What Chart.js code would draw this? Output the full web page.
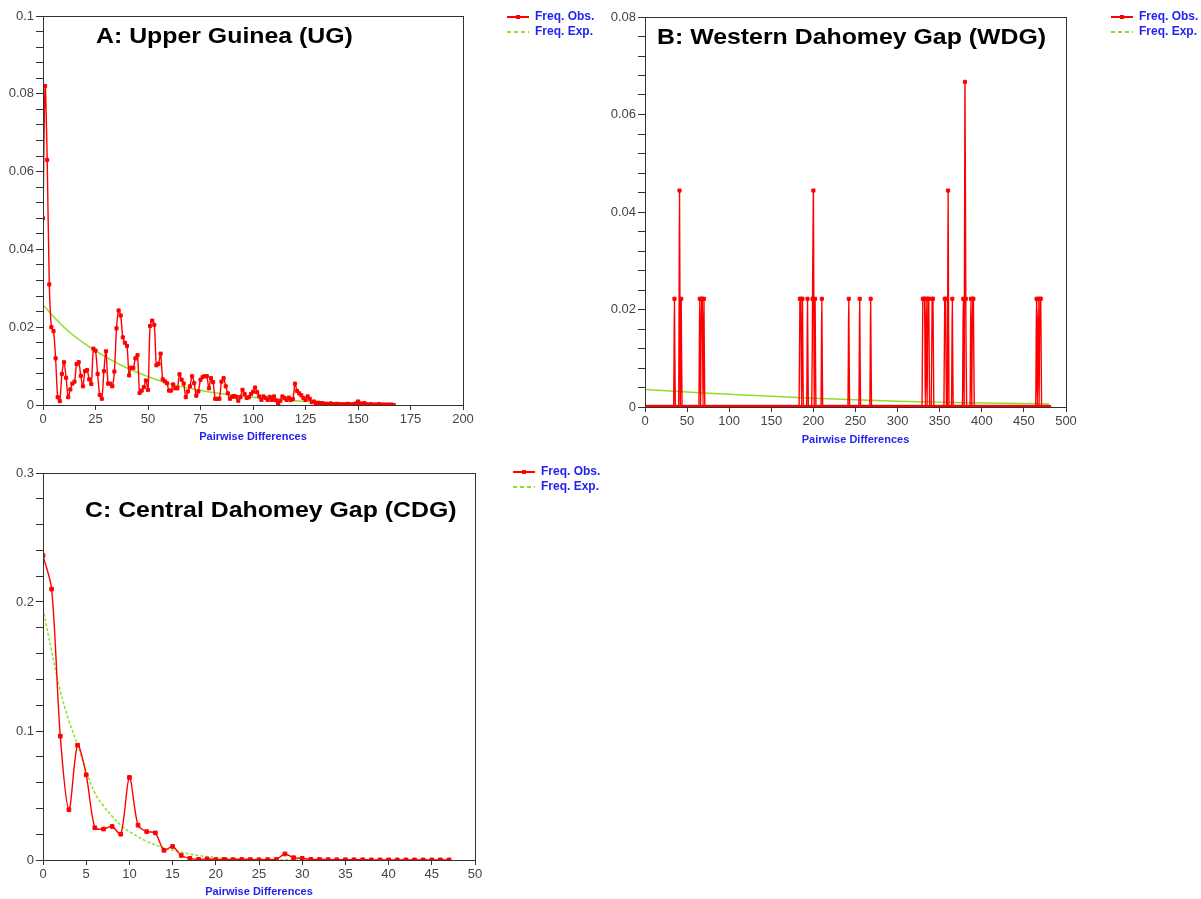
<!DOCTYPE html>
<html lang="en">
<head>
  <meta charset="UTF-8" />
  <title>Mismatch distributions</title>
  <style>
    body {
      margin: 0;
      background: #fff;
      width: 1201px;
      height: 899px;
      overflow: hidden;
      position: relative;
    }
    .panel { position: absolute; }
  </style>
</head>
<body>

  <div class="panel" style="left:0; top:0;"><canvas id="chartA" width="605" height="450"></canvas></div>
  <div class="panel" style="left:600px; top:0;"><canvas id="chartB" width="601" height="450"></canvas></div>
  <div class="panel" style="left:0; top:460px;"><canvas id="chartC" width="605" height="439"></canvas></div>

  <script src="https://cdn.jsdelivr.net/npm/chart.js"></script>
  <script>
    // ---- A: Upper Guinea, observed frequency for 0,1,2,... pairwise differences
    const aObs = [
      0.048, 0.082, 0.063, 0.031, 0.020, 0.019, 0.012, 0.002, 0.001, 0.008,
      0.011, 0.007, 0.002, 0.004, 0.0055, 0.006, 0.0105, 0.011, 0.0075, 0.0048,
      0.0087, 0.009, 0.0066, 0.0054, 0.0145, 0.014, 0.008, 0.0026, 0.0016, 0.0087,
      0.0138, 0.0055, 0.0055, 0.0048, 0.0086, 0.0197, 0.0243, 0.023, 0.0174, 0.016,
      0.0152, 0.0076, 0.0096, 0.0095, 0.012, 0.0128, 0.0031, 0.0037, 0.0046, 0.0063,
      0.0039, 0.0203, 0.0217, 0.0206, 0.0102, 0.0106, 0.0132, 0.0066, 0.0061, 0.0056,
      0.0037, 0.0037, 0.0053, 0.0043, 0.0043, 0.0079, 0.0065, 0.0055, 0.002, 0.0035,
      0.0048, 0.0074, 0.0056, 0.0024, 0.0035, 0.0065, 0.0072, 0.0074, 0.0074, 0.0043,
      0.0069, 0.0059, 0.0016, 0.0016, 0.0016, 0.006, 0.0069, 0.0048, 0.003, 0.0016,
      0.0021, 0.0023, 0.0021, 0.0011, 0.002, 0.0039, 0.0028, 0.0018, 0.002, 0.0028,
      0.0034, 0.0045, 0.0033, 0.0022, 0.0013, 0.0022, 0.0018, 0.0013, 0.0021, 0.0013,
      0.0022, 0.0012, 0.0004, 0.0011, 0.0022, 0.0018, 0.0013, 0.0019, 0.0013, 0.0015,
      0.0055, 0.0036, 0.003, 0.0025, 0.0018, 0.0013, 0.0022, 0.0016, 0.0007, 0.0009,
      0.0004, 0.0006, 0.0003, 0.0005, 0.0002, 0.0003, 0.0002, 0.0004, 0.0002, 0.0002,
      0.0003, 0.0002, 0.0001, 0.0002, 0.0001, 0.0003, 0.0002, 0.0001, 0.0002, 0.0004,
      0.0009, 0.0004, 0.0002, 0.0005, 0.0002, 0.0001, 0.0002, 0.0001, 0.0001, 0.0001,
      0.0002, 0.0001, 0.0001, 0.0001, 0.0001, 0.0001, 0.0001, 0
    ];
    const aExpX = [0, 10, 20, 30, 40, 50, 60, 70, 80, 90, 100, 110, 120, 130, 140, 150, 160, 166];
    const aExpY = [0.0257, 0.0200, 0.0157, 0.0123, 0.0095, 0.0073, 0.0055, 0.0043, 0.0033, 0.0026,
                   0.0020, 0.0015, 0.0011, 0.0008, 0.0006, 0.0004, 0.0003, 0.0002];
    const aYLabels = [0, 0.02, 0.04, 0.06, 0.08, 0.1];

    // ---- B: Western Dahomey Gap, observed is zero except at these differences
    const bLastX = 480;
    const bSpikeX = [35, 41, 43, 65, 67, 68, 70, 184, 185, 187, 193, 199, 200, 202, 210, 242, 255, 268,
                     330, 331, 332, 334, 336, 337, 341, 342, 356, 357, 360, 365, 378, 380, 381,
                     387, 389, 390, 465, 467, 469, 470];
    const bSpikeY = [0.0222, 0.0444, 0.0222, 0.0222, 0.0222, 0.0222, 0.0222, 0.0222, 0.0222, 0.0222,
                     0.0222, 0.0222, 0.0444, 0.0222, 0.0222, 0.0222, 0.0222, 0.0222,
                     0.0222, 0.0222, 0.0222, 0.0222, 0.0222, 0.0222, 0.0222, 0.0222, 0.0222, 0.0222,
                     0.0444, 0.0222, 0.0222, 0.0667, 0.0222,
                     0.0222, 0.0222, 0.0222, 0.0222, 0.0222, 0.0222, 0.0222];
    const bExpX = [0, 50, 100, 150, 200, 250, 300, 350, 400, 450, 480];
    const bExpY = [0.0036, 0.0031, 0.0026, 0.0022, 0.0018, 0.0015, 0.0012, 0.0010, 0.0008, 0.0007, 0.0006];
    const bYLabels = [0, 0.02, 0.04, 0.06, 0.08];

    // ---- C: Central Dahomey Gap
    const cObs = [
      0.236, 0.210, 0.096, 0.039, 0.089, 0.066, 0.025, 0.024, 0.026, 0.020,
      0.064, 0.027, 0.022, 0.021, 0.0075, 0.0105, 0.0035, 0.0013, 0.0005, 0.0008,
      0.0003, 0.0004, 0.0003, 0.0004, 0.0003, 0.0002, 0.0003, 0.0004, 0.0047, 0.0018,
      0.0013, 0.0005, 0.0004, 0.0003, 0.0002, 0.0002, 0.0002, 0.0002, 0.0001, 0.0001,
      0.0001, 0.0001, 0.0001, 0.0001, 0.0001, 0.0001, 0.0001, 0.0001
    ];
    const cExpX = [0, 1, 2, 3, 4, 5, 6, 7, 8, 9, 10, 12, 14, 16, 18, 20, 22, 25, 30, 35, 47];
    const cExpY = [0.195, 0.162, 0.131, 0.108, 0.089, 0.069, 0.052, 0.042, 0.034, 0.027, 0.022,
                   0.0145, 0.0095, 0.006, 0.0035, 0.002, 0.0012, 0.0005, 0.0002, 0.0001, 0];
    const cYLabels = [0, 0.1, 0.2, 0.3];

    const RED = '#ff0000';
    const GREEN = '#8fdf2a';
    const BLUE = '#2323f0';
    const FONT = '"Liberation Sans", Arial, sans-serif';

    const toPoints = (xs, ys) => xs.map((x, i) => ({ x: x, y: ys[i] }));
    const indexed = ys => ys.map((y, x) => ({ x: x, y: y }));

    const bObs = [];
    for (let i = 0; i <= bLastX; i++) {
      const k = bSpikeX.indexOf(i);
      bObs.push(k >= 0 ? bSpikeY[k] : 0);
    }

    function labelFor(v, labels) {
      const hit = labels.find(l => Math.abs(l - v) < 1e-9);
      return hit === undefined ? '' : String(hit);
    }

    // black box around the plot area
    const frame = {
      id: 'frame',
      afterDraw(chart) {
        const { ctx, chartArea: a } = chart;
        ctx.save();
        ctx.strokeStyle = '#333';
        ctx.lineWidth = 1;
        ctx.strokeRect(Math.round(a.left) + 0.5, Math.round(a.top) + 0.5,
                       Math.round(a.right - a.left), Math.round(a.bottom - a.top));
        ctx.restore();
      }
    };

    // bold heading inside the plot
    const panelTitle = {
      id: 'panelTitle',
      afterDraw(chart, args, opts) {
        const { ctx, chartArea: a } = chart;
        ctx.save();
        ctx.font = 'bold 22px ' + FONT;
        ctx.fillStyle = '#000';
        ctx.textBaseline = 'alphabetic';
        ctx.translate(a.left + opts.dx, a.top + opts.dy);
        ctx.scale(1.13, 1);
        ctx.fillText(opts.text, 0, 0);
        ctx.restore();
      }
    };

    // legend to the right of the plot, top aligned
    const sideLegend = {
      id: 'sideLegend',
      afterDraw(chart, args, opts) {
        const { ctx, chartArea: a } = chart;
        ctx.save();
        ctx.font = 'bold 12px ' + FONT;
        ctx.textBaseline = 'middle';
        chart.data.datasets.forEach((ds, i) => {
          const x = a.right + opts.dx;
          const y = a.top + opts.dy + i * 15;
          ctx.strokeStyle = ds.borderColor;
          ctx.lineWidth = 2;
          ctx.setLineDash(i === 0 ? [] : [4, 3]);
          ctx.beginPath();
          ctx.moveTo(x, y);
          ctx.lineTo(x + 22, y);
          ctx.stroke();
          ctx.setLineDash([]);
          if (i === 0) {
            ctx.fillStyle = ds.borderColor;
            ctx.fillRect(x + 9, y - 2, 4, 4);
          }
          ctx.fillStyle = BLUE;
          ctx.fillText(ds.label, x + 28, y);
        });
        ctx.restore();
      }
    };

    function makeChart(id, p) {
      const ctx = document.getElementById(id).getContext('2d');
      return new Chart(ctx, {
        type: 'line',
        data: {
          datasets: [
            {
              label: 'Freq. Obs.',
              data: p.obs,
              borderColor: RED,
              backgroundColor: RED,
              borderWidth: 1.4,
              pointStyle: 'rect',
              pointRadius: p.pointRadius,
              pointBorderWidth: 1,
              tension: 0.3
            },
            {
              label: 'Freq. Exp.',
              data: p.exp,
              borderColor: GREEN,
              borderWidth: 1.5,
              borderDash: p.expDash,
              pointRadius: 0,
              tension: 0.4
            }
          ]
        },
        options: {
          responsive: false,
          animation: false,
          events: [],
          layout: { padding: p.padding },
          plugins: {
            legend: { display: false },
            tooltip: { enabled: false },
            panelTitle: p.title,
            sideLegend: p.legend
          },
          scales: {
            x: {
              type: 'linear',
              min: 0,
              max: p.xMax,
              border: { color: '#333' },
              grid: { drawOnChartArea: false, tickLength: 5, color: '#333' },
              ticks: {
                stepSize: p.xStep,
                autoSkip: false,
                maxRotation: 0,
                padding: 2,
                color: '#444',
                font: { family: FONT, size: 13 }
              },
              title: {
                display: true,
                text: 'Pairwise Differences',
                color: BLUE,
                padding: 0,
                font: { family: FONT, size: 11, weight: 'bold' }
              },
              afterFit: s => { s.height = p.xHeight; }
            },
            y: {
              min: 0,
              max: p.yMax,
              border: { color: '#333' },
              grid: { drawOnChartArea: false, tickLength: 7, color: '#333' },
              ticks: {
                stepSize: p.yStep,
                autoSkip: false,
                padding: 2,
                color: '#444',
                font: { family: FONT, size: 13 },
                callback: v => labelFor(v, p.yLabels)
              },
              afterFit: s => { s.width = p.yWidth; }
            }
          }
        },
        plugins: [frame, panelTitle, sideLegend]
      });
    }

    makeChart('chartA', {
      obs: indexed(aObs),
      exp: toPoints(aExpX, aExpY),
      expDash: [],
      pointRadius: 2.2,
      xMax: 200, xStep: 25,
      yMax: 0.1, yStep: 0.004, yLabels: aYLabels,
      padding: { top: 16, right: 142, bottom: 6, left: 0 },
      xHeight: 39, yWidth: 43,
      title: { text: 'A: Upper Guinea (UG)', dx: 53, dy: 27 },
      legend: { dx: 44, dy: 1 }
    });

    makeChart('chartB', {
      obs: indexed(bObs),
      exp: toPoints(bExpX, bExpY),
      expDash: [],
      pointRadius: 2.2,
      xMax: 500, xStep: 50,
      yMax: 0.08, yStep: 0.004, yLabels: bYLabels,
      padding: { top: 17, right: 135, bottom: 3, left: 0 },
      xHeight: 40, yWidth: 45,
      title: { text: 'B: Western Dahomey Gap (WDG)', dx: 12, dy: 27 },
      legend: { dx: 45, dy: 0 }
    });

    makeChart('chartC', {
      obs: indexed(cObs),
      exp: toPoints(cExpX, cExpY),
      expDash: [3, 2],
      pointRadius: 2.6,
      xMax: 50, xStep: 5,
      yMax: 0.3, yStep: 0.02, yLabels: cYLabels,
      padding: { top: 13, right: 130, bottom: 0, left: 0 },
      xHeight: 39, yWidth: 43,
      title: { text: 'C: Central Dahomey Gap (CDG)', dx: 42, dy: 44 },
      legend: { dx: 38, dy: -1 }
    });
  </script>
</body>
</html>
